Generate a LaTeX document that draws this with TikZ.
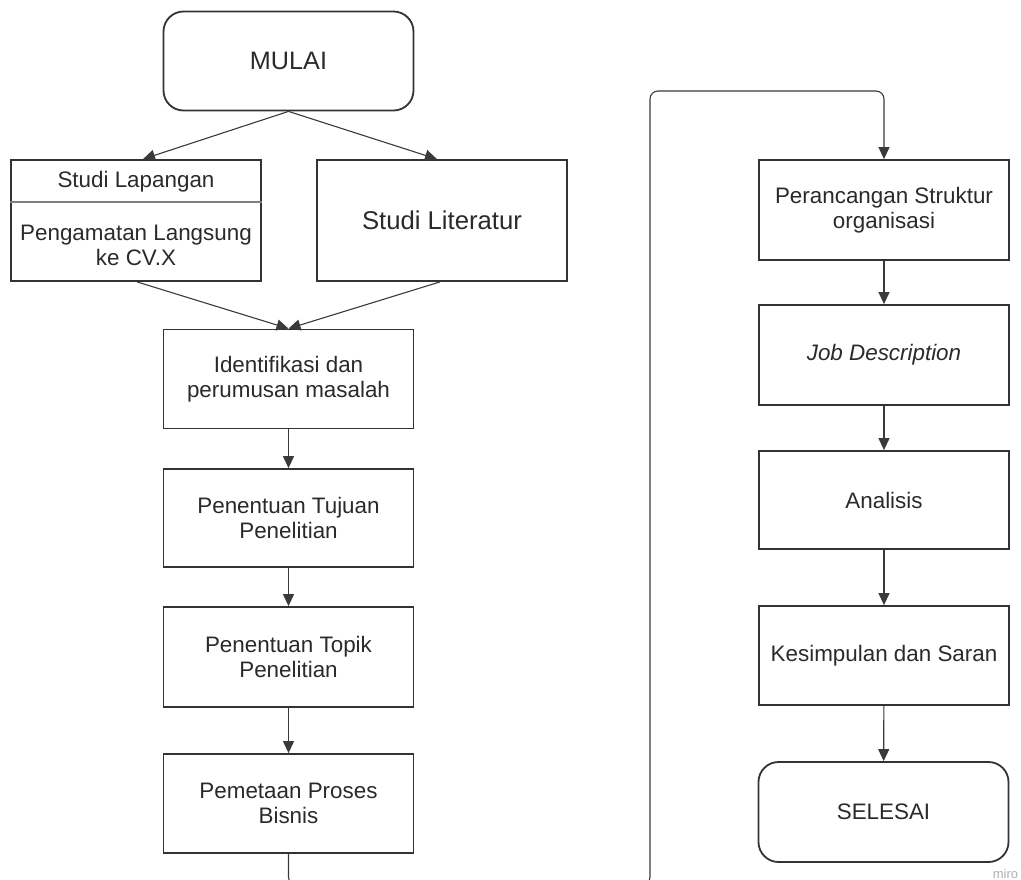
\documentclass[tikz,border=0pt]{standalone}
\usepackage{fontspec}
\setmainfont{Liberation Sans}
\usetikzlibrary{arrows.meta}
\definecolor{boxline}{HTML}{333333}
\definecolor{txt}{HTML}{2A2A2A}
\definecolor{conline}{HTML}{3A3A3A}
\definecolor{divline}{HTML}{808080}
\definecolor{miro}{HTML}{B0B0B0}
\tikzset{
  procbox/.style={draw=boxline, line width=1.8pt, minimum width=250pt, minimum height=99pt,
    inner sep=0pt, align=center, text=txt, font=\fontsize{22.4}{25}\selectfont},
  termbox/.style={procbox, rounded corners=20pt},
  plaintext/.style={inner sep=0pt, align=center, text=txt, font=\fontsize{22.4}{25}\selectfont},
  conn/.style={draw=conline, line width=1.1pt, -{Triangle[length=12pt,width=11pt]}},
  divider/.style={draw=divline, line width=1.4pt}
}
\begin{document}
\begin{tikzpicture}[x=1pt,y=-1pt]
\useasboundingbox (0,0) rectangle (1021,879);
% left column
\node[termbox, font=\fontsize{25.2}{28}\selectfont] (mulai) at (288.5,61) {MULAI};
\node[procbox, minimum height=121pt] (lap) at (136,220.5) {};
\node[plaintext] (lapA) at (136,182) {Studi Lapangan};
\node[plaintext] (lapB) at (136,245) {Pengamatan Langsung\\ke CV.X};
\draw[divider] ([yshift=-43pt]lap.north west) -- ([yshift=-43pt]lap.north east);
\node[procbox, minimum height=121pt, font=\fontsize{25.7}{28}\selectfont] (lit) at (442,220.5) {Studi Literatur};
\node[procbox] (ident) at (288.5,379) {Identifikasi dan\\perumusan masalah};
\node[procbox, minimum height=98pt] (tujuan) at (288.5,518) {Penentuan Tujuan\\Penelitian};
\node[procbox, minimum height=100pt] (topik) at (288.5,657) {Penentuan Topik\\Penelitian};
\node[procbox] (pem) at (288.5,803.5) {Pemetaan Proses\\Bisnis};
% right column
\node[procbox, minimum height=100pt] (peran) at (884,210) {Perancangan Struktur\\organisasi};
\node[procbox, minimum height=100pt] (job) at (884,355) {\itshape Job Description};
\node[procbox, minimum height=98pt] (anal) at (884,500) {Analisis};
\node[procbox] (kesim) at (884,655.5) {Kesimpulan dan Saran};
\node[termbox, minimum height=100pt] (sel) at (883.5,812) {SELESAI};
% connectors
\draw[conn] (mulai.south) -- ([xshift=7pt]lap.north);
\draw[conn] (mulai.south) -- ([xshift=-5pt]lit.north);
\draw[conn] ([xshift=1pt]lap.south) -- (ident.north);
\draw[conn] ([xshift=-2pt]lit.south) -- (ident.north);
\draw[conn] (ident) -- (tujuan);
\draw[conn] (tujuan) -- (topik);
\draw[conn] (topik) -- (pem);
\draw[conn, rounded corners=8pt] (pem.south) |- (650,885) -- (650,91) -| (peran.north);
\draw[conn] (peran) -- (job);
\draw[conn] (job) -- (anal);
\draw[conn] (anal) -- (kesim);
\draw[conn] (kesim) -- (sel);
% watermark
\node[inner sep=0pt, anchor=base, text=miro, font=\fontsize{13}{13}\selectfont] (wm) at (1005.5,878) {miro};
\end{tikzpicture}
\end{document}
